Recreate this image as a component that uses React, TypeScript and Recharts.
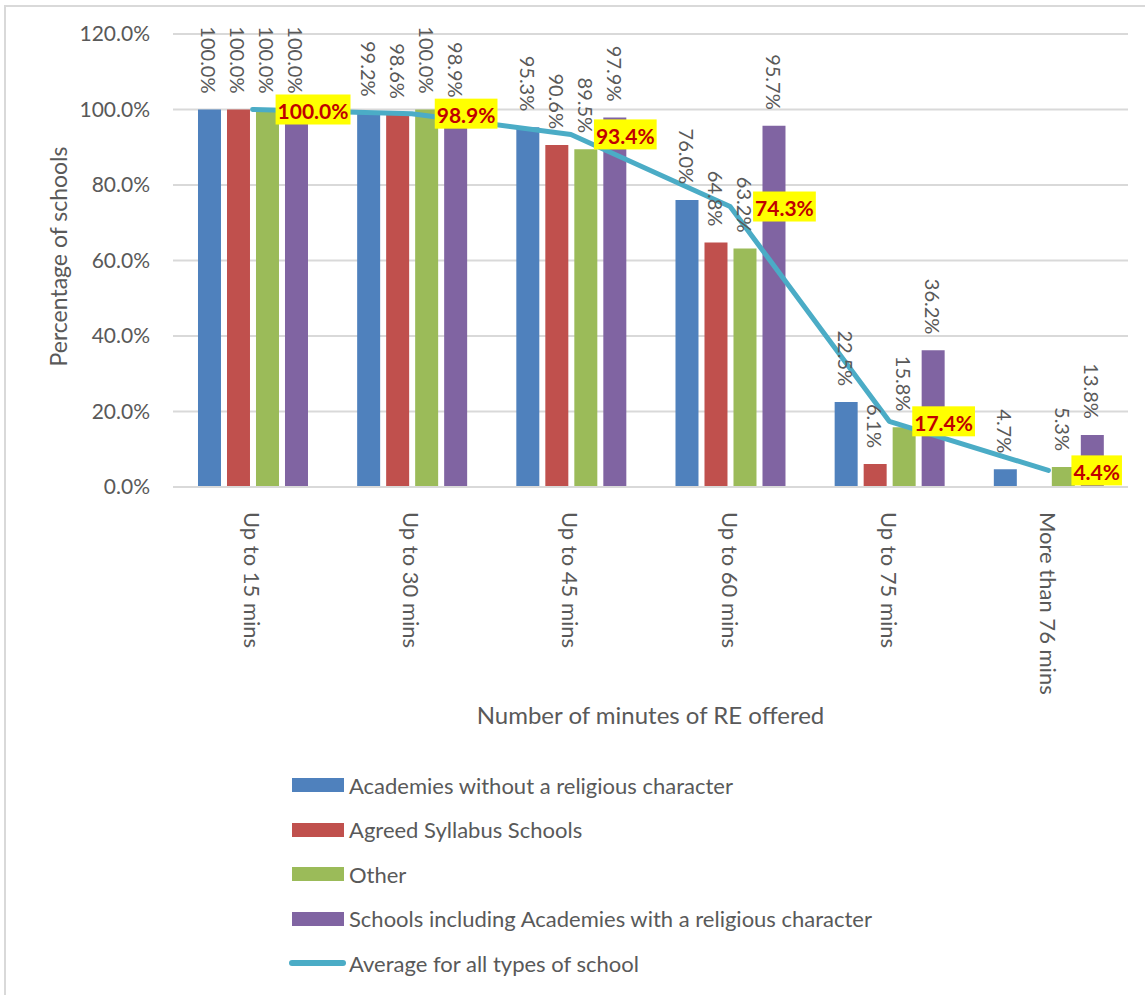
import React from "react";
import {
  ComposedChart,
  Bar,
  Line,
  XAxis,
  YAxis,
  CartesianGrid,
  Legend,
  LabelList,
  Label,
} from "recharts";

const categories = [
  "Up to 15 mins",
  "Up to 30 mins",
  "Up to 45 mins",
  "Up to 60 mins",
  "Up to 75 mins",
  "More than 76 mins",
];
const academiesNoReligious = [100.0, 99.2, 95.3, 76.0, 22.5, 4.7];
const agreedSyllabus = [100.0, 98.6, 90.6, 64.8, 6.1, 0.0];
const otherSchools = [100.0, 100.0, 89.5, 63.2, 15.8, 5.3];
const religiousCharacter = [100.0, 98.9, 97.9, 95.7, 36.2, 13.8];
const averageAll = [100.0, 98.9, 93.4, 74.3, 17.4, 4.4];
const yTicks = [0, 20, 40, 60, 80, 100, 120];

const FONT = "Lato, 'Open Sans', sans-serif";
const GREY = "#595959";

const series = [
  { key: "academies", name: "Academies without a religious character", color: "#4F81BD" },
  { key: "agreed", name: "Agreed Syllabus Schools", color: "#C0504D" },
  { key: "other", name: "Other", color: "#9BBB59" },
  { key: "religious", name: "Schools including Academies with a religious character", color: "#8064A2" },
];
const avgSeries = { key: "average", name: "Average for all types of school", color: "#4BACC6" };

const data = categories.map((cat, i) => ({
  cat,
  academies: academiesNoReligious[i],
  agreed: agreedSyllabus[i],
  other: otherSchools[i],
  religious: religiousCharacter[i],
  average: averageAll[i],
}));

const fmt = (v: number) => `${v.toFixed(1)}%`;

let measureCtx: CanvasRenderingContext2D | null = null;
function textWidth(s: string, font: string) {
  if (!measureCtx) measureCtx = document.createElement("canvas").getContext("2d");
  if (!measureCtx) return s.length * 11;
  measureCtx.font = font;
  return measureCtx.measureText(s).width;
}

const BAR_LABEL_SIZE = 20;
const LABEL_TOP = 23;

// value label above each bar, rotated to read downwards
function BarValueLabel(props: any) {
  const { x, y, width, value } = props;
  const text = fmt(Number(value));
  const len = textWidth(text, `${BAR_LABEL_SIZE}px Lato`);
  const endY = Math.max(Number(y) - 16, LABEL_TOP + len);
  const cx = Number(x) + Number(width) / 2;
  return (
    <text
      transform={`translate(${cx},${endY}) rotate(90)`}
      textAnchor="end"
      dominantBaseline="central"
      fontSize={BAR_LABEL_SIZE}
      fontFamily={FONT}
      fill={GREY}
    >
      {text}
    </text>
  );
}

// highlighted value next to each point of the average line
function AverageLabel(props: any) {
  const { x, y, value } = props;
  const text = fmt(Number(value));
  const w = textWidth(text, `bold 21px Lato`) + 4;
  const left = Number(x) + 23;
  return (
    <g>
      <rect x={left} y={Number(y) - 15} width={w} height={30} fill="#FFFF00" />
      <text
        x={left + w / 2}
        y={Number(y) + 1}
        textAnchor="middle"
        dominantBaseline="central"
        fontSize={21}
        fontWeight="bold"
        fontFamily={FONT}
        fill="#C00000"
      >
        {text}
      </text>
    </g>
  );
}

function CategoryTick(props: any) {
  const { x, y, payload } = props;
  return (
    <text
      transform={`translate(${x},${Number(y) + 17}) rotate(90)`}
      textAnchor="start"
      dominantBaseline="central"
      fontSize={22}
      fontFamily={FONT}
      fill={GREY}
    >
      {payload.value}
    </text>
  );
}

function LegendList() {
  const rows = [...series.map((s) => ({ ...s, line: false })), { ...avgSeries, line: true }];
  return (
    <div style={{ fontFamily: FONT, fontSize: 22, color: GREY }}>
      {rows.map((r) => (
        <div key={r.key} style={{ height: 44.5, display: "flex", alignItems: "center", whiteSpace: "nowrap" }}>
          {r.line ? (
            <div
              style={{ width: 57, height: 6, borderRadius: 3, background: r.color, marginLeft: -3, marginRight: 3 }}
            />
          ) : (
            <div style={{ width: 52, height: 14, background: r.color, marginRight: 5 }} />
          )}
          <span>{r.name}</span>
        </div>
      ))}
    </div>
  );
}

export default function App() {
  return (
    <div style={{ position: "absolute", left: 0, top: 0, width: 1145, height: 995, background: "#fff", overflow: "hidden" }}>
      <div
        style={{
          position: "absolute",
          left: 4,
          top: 5,
          width: 1160,
          height: 1010,
          borderLeft: "2px solid #d9d9d9",
          borderTop: "2px solid #d9d9d9",
        }}
      />
      <ComposedChart
        width={1145}
        height={995}
        data={data}
        margin={{ top: 34, right: 17, left: 0, bottom: 268 }}
        barCategoryGap="15.7%"
        barGap={6}
        style={{ position: "absolute", left: 0, top: 0 }}
      >
        <CartesianGrid vertical={false} stroke="#d9d9d9" strokeWidth={2} />
        <XAxis
          dataKey="cat"
          height={240}
          interval={0}
          tickLine={false}
          axisLine={{ stroke: "#d9d9d9", strokeWidth: 2 }}
          tick={<CategoryTick />}
        >
          <Label
            content={(p: any) => {
              const vb = p.viewBox;
              return (
                <text
                  x={vb.x + vb.width / 2}
                  y={vb.y + 227}
                  textAnchor="middle"
                  dominantBaseline="central"
                  fontSize={24}
                  fontFamily={FONT}
                  fill={GREY}
                >
                  Number of minutes of RE offered
                </text>
              );
            }}
          />
        </XAxis>
        <YAxis
          width={173}
          domain={[0, 120]}
          ticks={yTicks}
          tickFormatter={fmt}
          axisLine={false}
          tickLine={false}
          tickSize={0}
          tickMargin={23}
          tick={{ fontSize: 21, fontFamily: FONT, fill: GREY }}
        >
          <Label
            content={(p: any) => {
              const vb = p.viewBox;
              const cy = vb.y + vb.height / 2;
              return (
                <text
                  transform={`translate(${vb.x + 58},${cy - 4}) rotate(-90)`}
                  textAnchor="middle"
                  dominantBaseline="central"
                  fontSize={23}
                  fontFamily={FONT}
                  fill={GREY}
                >
                  Percentage of schools
                </text>
              );
            }}
          />
        </YAxis>
        {series.map((s) => (
          <Bar key={s.key} dataKey={s.key} name={s.name} fill={s.color} isAnimationActive={false}>
            <LabelList dataKey={s.key} content={<BarValueLabel />} />
          </Bar>
        ))}
        <Line
          dataKey={avgSeries.key}
          name={avgSeries.name}
          type="linear"
          stroke={avgSeries.color}
          strokeWidth={5}
          strokeLinejoin="round"
          strokeLinecap="round"
          dot={false}
          activeDot={false}
          isAnimationActive={false}
        >
          <LabelList dataKey={avgSeries.key} content={<AverageLabel />} />
        </Line>
        <Legend
          layout="horizontal"
          verticalAlign="middle"
          align="center"
          content={<LegendList />}
          wrapperStyle={{ top: 763, left: 292, width: 800, height: "auto", bottom: "auto" }}
        />
      </ComposedChart>
    </div>
  );
}
